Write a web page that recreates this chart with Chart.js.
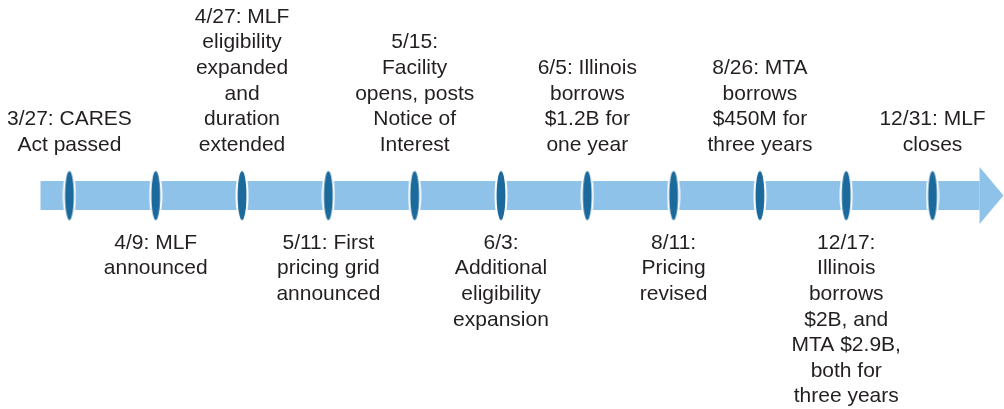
<!DOCTYPE html>
<html>
<head>
<meta charset="utf-8">
<script src="https://cdn.jsdelivr.net/npm/chart.js@4"></script>
<style>
  html, body { margin: 0; padding: 0; background: #fff; }
  #wrap { width: 1004px; height: 409px; position: relative; }
</style>
</head>
<body>
<div id="wrap"><canvas id="timeline"></canvas></div>
<script>
// ---- data ----
const eventDates = ["3/27", "4/9", "4/27", "5/11", "5/15", "6/3", "6/5", "8/11", "8/26", "12/17", "12/31"];
const eventLines = [
  ["3/27: CARES", "Act passed"],
  ["4/9: MLF", "announced"],
  ["4/27: MLF", "eligibility", "expanded", "and", "duration", "extended"],
  ["5/11: First", "pricing grid", "announced"],
  ["5/15:", "Facility", "opens, posts", "Notice of", "Interest"],
  ["6/3:", "Additional", "eligibility", "expansion"],
  ["6/5: Illinois", "borrows", "$1.2B for", "one year"],
  ["8/11:", "Pricing", "revised"],
  ["8/26: MTA", "borrows", "$450M for", "three years"],
  ["12/17:", "Illinois", "borrows", "$2B, and", "MTA $2.9B,", "both for", "three years"],
  ["12/31: MLF", "closes"]
];
const eventIndex = eventDates.map((d, i) => i);

// ---- style ----
const BAR_COLOR = "#8fc2e9";
const MARK_COLOR = "#1c6a9c";
const TEXT_COLOR = "#231f20";
const FONT = '21px "Liberation Sans", Arial, sans-serif';
const LINE_H = 25.6;

// ellipse marker used as point style
const markerImg = (() => {
  const c = document.createElement("canvas");
  c.width = 14; c.height = 54;
  const g = c.getContext("2d");
  g.beginPath();
  g.ellipse(7, 27, 5.2, 25, 0, 0, Math.PI * 2);
  g.fillStyle = MARK_COLOR;
  g.fill();
  g.lineWidth = 2.5;
  g.strokeStyle = "#fff";
  g.stroke();
  g.beginPath();
  g.ellipse(7, 27, 4.4, 24.5, 0, 0, Math.PI * 2);
  g.fill();
  return c;
})();

const timelinePlugin = {
  id: "timelineDecor",
  beforeDatasetsDraw(chart) {
    const { ctx, scales: { x, y } } = chart;
    const cy = y.getPixelForValue(0);
    const x0 = x.getPixelForValue(-0.335);
    const headStart = x.getPixelForValue(10.545);
    const tip = x.getPixelForValue(x.max);
    ctx.save();
    ctx.fillStyle = BAR_COLOR;
    ctx.fillRect(x0, cy - 14.5, headStart - x0, 29);
    ctx.beginPath();
    ctx.moveTo(headStart, cy - 28.5);
    ctx.lineTo(tip, cy);
    ctx.lineTo(headStart, cy + 28.5);
    ctx.closePath();
    ctx.fill();
    ctx.restore();
  },
  afterDatasetsDraw(chart) {
    const { ctx, scales: { x, y } } = chart;
    const cy = y.getPixelForValue(0);
    ctx.save();
    ctx.font = FONT;
    ctx.fillStyle = TEXT_COLOR;
    ctx.textAlign = "center";
    ctx.textBaseline = "middle";
    eventLines.forEach((lines, i) => {
      const px = x.getPixelForValue(eventIndex[i]);
      if (i % 2 === 0) {
        const last = cy - 50.5;
        lines.forEach((t, k) => {
          ctx.fillText(t, px, last - (lines.length - 1 - k) * LINE_H);
        });
      } else {
        const first = cy + 47.5;
        lines.forEach((t, k) => ctx.fillText(t, px, first + k * LINE_H));
      }
    });
    ctx.restore();
  }
};

new Chart(document.getElementById("timeline"), {
  type: "scatter",
  data: {
    datasets: [{
      data: eventIndex.map(i => ({ x: i, y: 0 })),
      pointStyle: markerImg,
      pointRadius: 0.5,
      pointHoverRadius: 0.5,
      pointBorderWidth: 0,
      pointHoverBorderWidth: 0
    }]
  },
  options: {
    responsive: true,
    maintainAspectRatio: false,
    animation: false,
    layout: { padding: 0 },
    plugins: { legend: { display: false }, tooltip: { enabled: false } },
    scales: {
      x: { type: "linear", min: -0.7986, max: 10.822, display: false },
      y: { type: "linear", min: -213.5, max: 195.5, display: false }
    }
  },
  plugins: [timelinePlugin]
});
</script>
</body>
</html>
